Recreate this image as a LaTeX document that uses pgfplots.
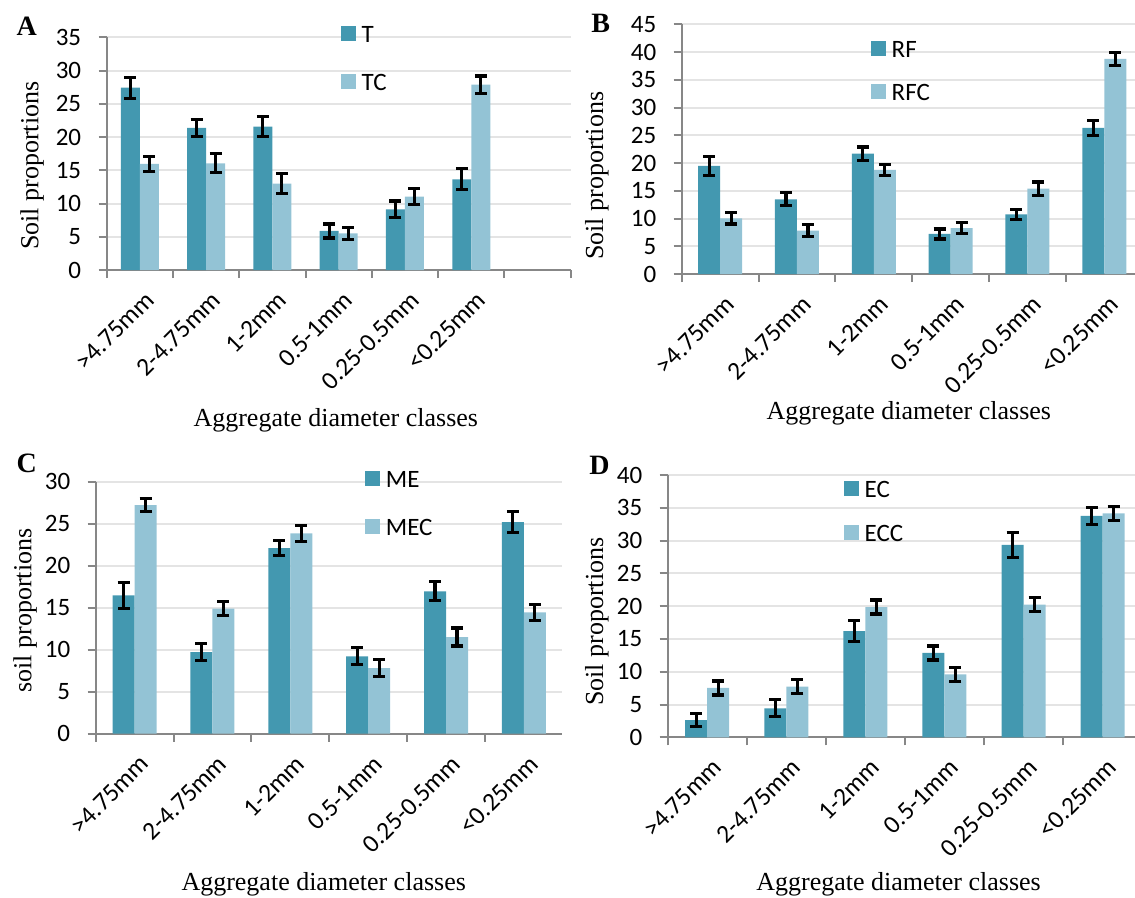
\documentclass[border=0pt]{standalone}
\usepackage{pgfplots}
\pgfplotsset{compat=1.18}
\usepackage{fontspec}
\setmainfont{Liberation Serif}
\newfontfamily\carl{Carlito}
\definecolor{dk}{HTML}{4398B0}
\definecolor{lt}{HTML}{93C3D5}
\definecolor{axg}{HTML}{878787}
\definecolor{grd}{HTML}{E4E4E4}

\pgfplotsset{
 panel/.style={
  scale only axis, anchor=south west,
  ybar=0pt,
  axis x line*=bottom, axis y line*=left,
  axis line style={draw=axg, line width=2pt},
  xmin=-0.5, ymin=0,
  xtick={0,...,5},
  xticklabels={{>4.75mm},{2-4.75mm},{1-2mm},{0.5-1mm},{0.25-0.5mm},{<0.25mm}},
  minor xtick={-0.5,0.5,...,6.5},
  major x tick style={draw=none},
  minor x tick style={draw=axg, line width=2pt},
  y tick style={draw=axg, line width=2pt},
  tick align=outside,
  major tick length=8pt, minor tick length=8pt,
  ymajorgrids, grid style={draw=grd, line width=2pt},
  /pgf/number format/assume math mode=true,
  yticklabel style={font=\carl\fontsize{25}{25}\selectfont, xshift=-14pt},
  xticklabel style={font=\carl\fontsize{25.5}{25.5}\selectfont, xshift=4pt, yshift=-12pt, rotate=45, anchor=north east, inner sep=0pt},
  legend style={font=\carl\fontsize{25}{25}\selectfont, draw=none, fill=none, anchor=north west, inner sep=0pt, outer sep=0pt,
     nodes={inner sep=0pt, text height=15pt, text depth=0pt},
     /tikz/every odd column/.append style={column sep=5.7pt}},
  legend cell align=left,
  legend image code/.code={\fill[##1] (0pt,-6pt) rectangle (15pt,9pt);},
  xlabel={Aggregate diameter classes},
  ylabel={Soil proportions},
 },
 eb/.style={error bars/.cd, y dir=both, y explicit,
   error bar style={line width=3.1pt, draw=black, solid},
   error mark options={rotate=90, line width=3.1pt, draw=black, solid, mark size=6pt}},
}

\begin{document}
\begin{tikzpicture}[x=1pt,y=1pt]
\useasboundingbox (0,0) rectangle (1135,-897);

% Panel A
\begin{axis}[panel, at={(106.7pt,-270pt)}, width=464pt, height=232.7pt,
  xmax=6.5, ymax=35, ytick={0,5,...,35}, bar width=19pt,
  legend style={at={(axis description cs:0.505,1.0486)}, row sep=32pt},
  every axis y label/.style={at={(axis description cs:-0.1608,0.4478)}, rotate=90, anchor=center, font=\fontsize{26}{26}\selectfont},
  every axis x label/.style={at={(axis description cs:0.4937,0)}, yshift=-150.5pt, anchor=center, font=\fontsize{26}{26}\selectfont}]
\addplot[fill=dk, draw=none, eb] table[x=x, y=y, y error=e] {
x y e
0 27.43 1.58
1 21.36 1.25
2 21.56 1.50
3 5.87 1.05
4 9.13 1.25
5 13.64 1.58
};
\addplot[fill=lt, draw=none, eb] table[x=x, y=y, y error=e] {
x y e
0 15.95 1.18
1 16.05 1.43
2 12.99 1.55
3 5.52 0.93
4 11.03 1.20
5 27.88 1.30
};
\legend{T,TC}
\end{axis}

% Panel B
\begin{axis}[panel, at={(681.7pt,-274pt)}, width=453.3pt, height=249.7pt,
  xmax=5.4, ymax=45, ytick={0,5,...,45}, bar width=22pt,
  legend style={at={(axis description cs:0.4176,0.934)}, row sep=26.6pt},
  every axis y label/.style={at={(axis description cs:-0.1873,0.3933)}, rotate=90, anchor=center, font=\fontsize{26}{26}\selectfont},
  every axis x label/.style={at={(axis description cs:0.501,0)}, yshift=-139pt, anchor=center, font=\fontsize{26}{26}\selectfont}]
\addplot[fill=dk, draw=none, eb] table[x=x, y=y, y error=e] {
x y e
0 19.47 1.65
1 13.46 1.17
2 21.69 1.20
3 7.21 0.90
4 10.75 0.90
5 26.32 1.38
};
\addplot[fill=lt, draw=none, eb] table[x=x, y=y, y error=e] {
x y e
0 10.03 1.02
1 7.81 1.05
2 18.75 1.05
3 8.29 1.05
4 15.38 1.20
5 38.75 1.14
};
\legend{RF,RFC}
\end{axis}

% Panel C
\begin{axis}[panel, at={(95.7pt,-733.7pt)}, width=466.3pt, height=252pt,
  xmax=5.49, ymax=30, ytick={0,5,...,30}, bar width=22pt,
  ylabel={soil proportions},
  legend style={at={(axis description cs:0.578,1.0425)}, row sep=31.7pt},
  every axis y label/.style={at={(axis description cs:-0.1516,0.4889)}, rotate=90, anchor=center, font=\fontsize{26}{26}\selectfont},
  every axis x label/.style={at={(axis description cs:0.489,0)}, yshift=-150.3pt, anchor=center, font=\fontsize{26}{26}\selectfont}]
\addplot[fill=dk, draw=none, eb] table[x=x, y=y, y error=e] {
x y e
0 16.47 1.53
1 9.72 1.03
2 22.10 0.90
3 9.21 1.00
4 16.94 1.13
5 25.20 1.21
};
\addplot[fill=lt, draw=none, eb] table[x=x, y=y, y error=e] {
x y e
0 27.22 0.75
1 14.88 0.81
2 23.85 0.97
3 7.82 1.05
4 11.51 1.07
5 14.44 0.99
};
\legend{ME,MEC}
\end{axis}

% Panel D
\begin{axis}[panel, at={(667.7pt,-737.3pt)}, width=467.3pt, height=262.3pt,
  xmax=5.41, ymax=40, ytick={0,5,...,40}, bar width=22pt,
  legend style={at={(axis description cs:0.3773,0.977)}, row sep=27pt},
  every axis y label/.style={at={(axis description cs:-0.1517,0.4407)}, rotate=90, anchor=center, font=\fontsize{26}{26}\selectfont},
  every axis x label/.style={at={(axis description cs:0.494,0)}, yshift=-147pt, anchor=center, font=\fontsize{26}{26}\selectfont}]
\addplot[fill=dk, draw=none, eb] table[x=x, y=y, y error=e] {
x y e
0 2.64 1.04
1 4.42 1.30
2 16.21 1.58
3 12.86 1.07
4 29.33 1.86
5 33.75 1.30
};
\addplot[fill=lt, draw=none, eb] table[x=x, y=y, y error=e] {
x y e
0 7.52 1.07
1 7.72 1.04
2 19.87 1.07
3 9.61 1.07
4 20.23 1.09
5 34.15 1.09
};
\legend{EC,ECC}
\end{axis}

\node[font=\bfseries\fontsize{28}{28}\selectfont] at (26.8,-25.8) {A};
\node[font=\bfseries\fontsize{28}{28}\selectfont] at (600.7,-23.3) {B};
\node[font=\bfseries\fontsize{28}{28}\selectfont] at (26.8,-463.3) {C};
\node[font=\bfseries\fontsize{28}{28}\selectfont] at (599.5,-465) {D};
\end{tikzpicture}
\end{document}
